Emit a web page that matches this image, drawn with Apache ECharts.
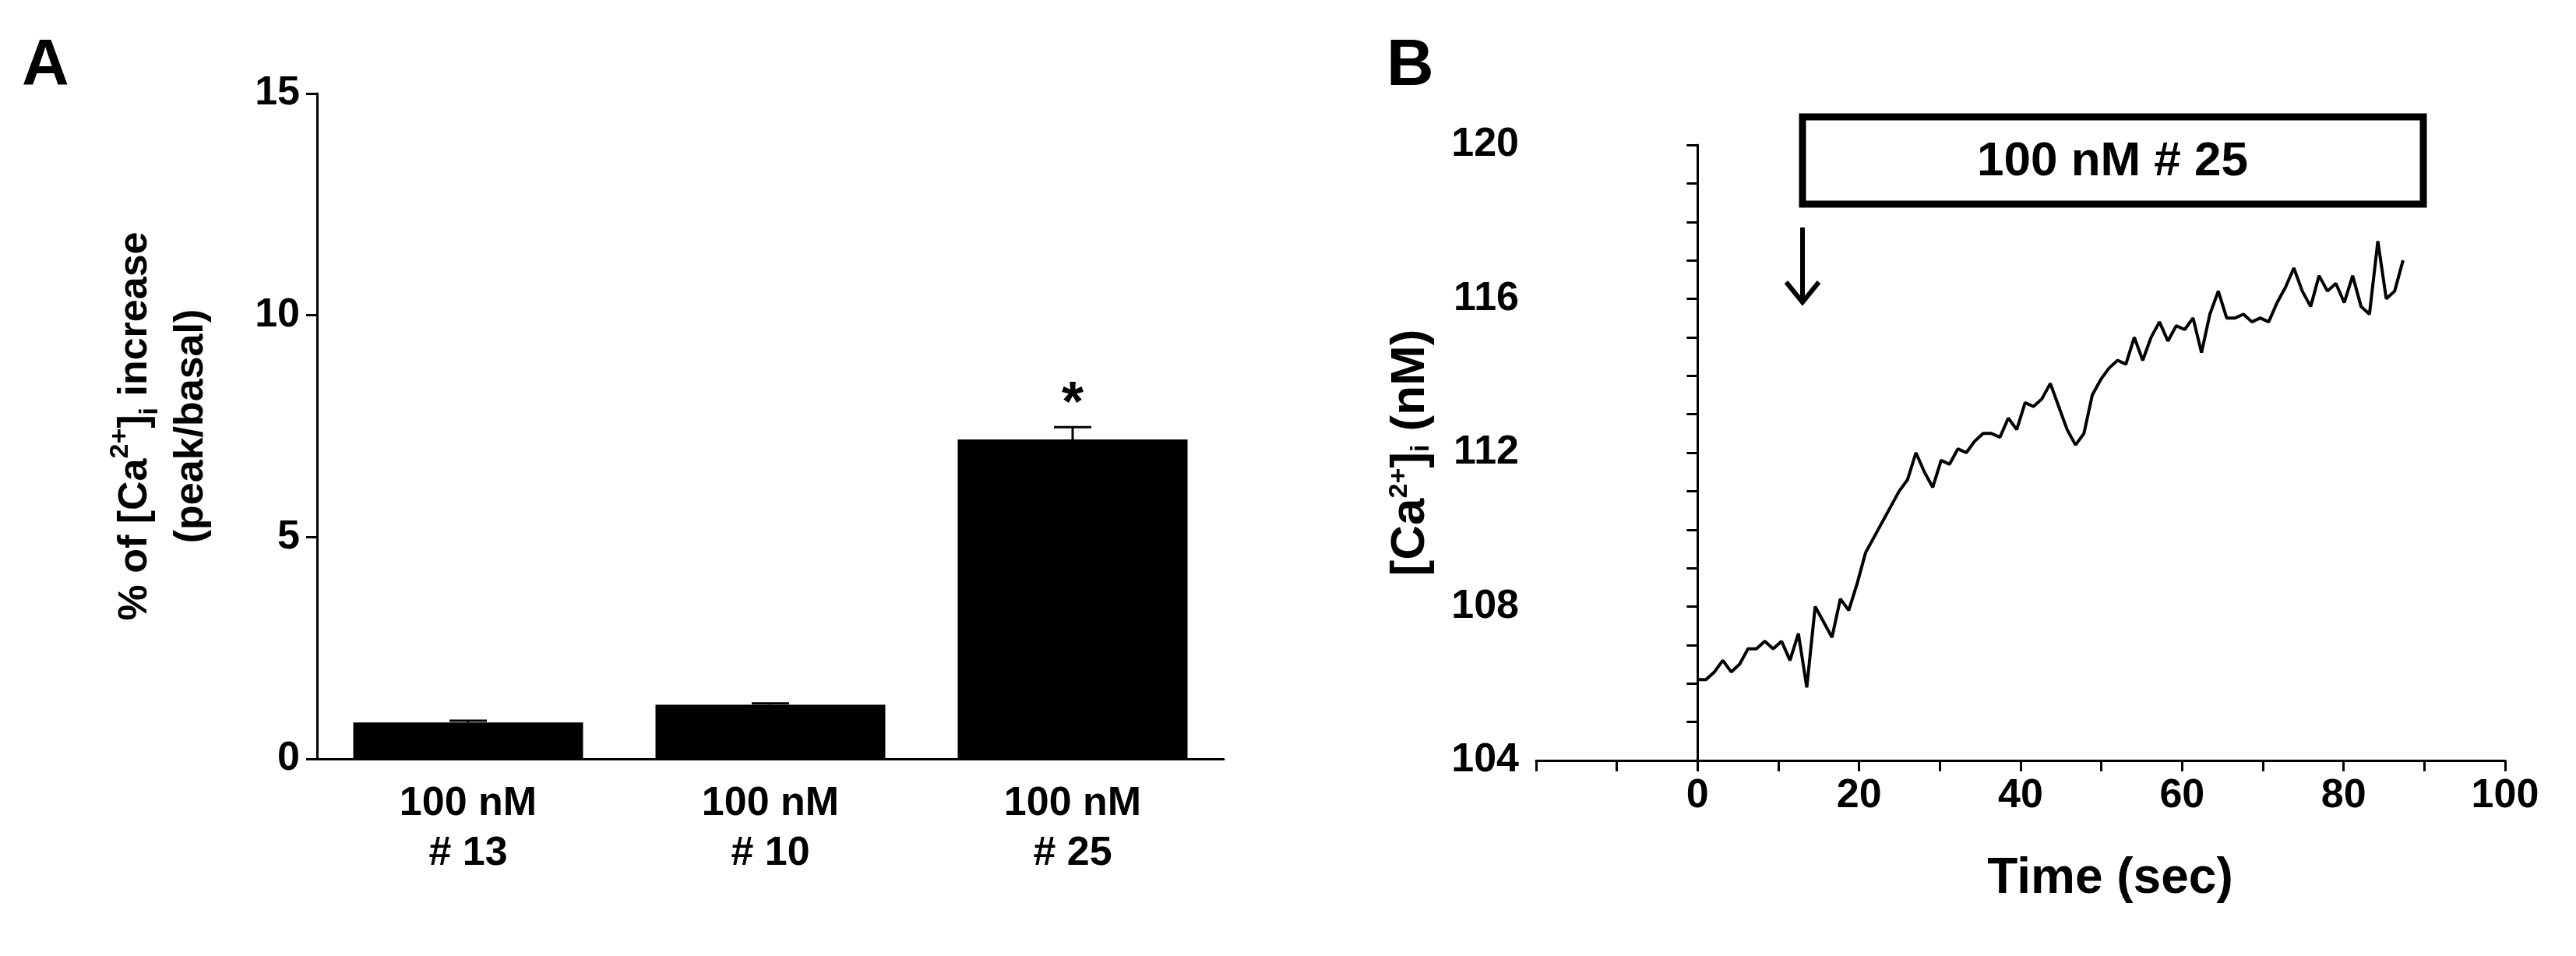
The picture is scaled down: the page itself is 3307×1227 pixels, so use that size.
<!DOCTYPE html>
<html>
<head>
<meta charset="utf-8">
<script src="https://cdn.jsdelivr.net/npm/echarts@6/dist/echarts.min.js"></script>
<style>html,body{margin:0;padding:0;background:#fff}#chart{width:3307px;height:1227px}</style>
</head>
<body>
<div id="chart"></div>
<script>
// panel A
const categories = ['100 nM\n# 13', '100 nM\n# 10', '100 nM\n# 25']
const barValues = [0.82, 1.22, 7.2]
const barErrors = [0.04, 0.03, 0.28]
const barMarks = ['', '', '*']
// panel B
const dt = 1.04
const calcium = [106.1, 106.1, 106.3, 106.6, 106.3, 106.5, 106.9, 106.9, 107.1, 106.9,
  107.1, 106.6, 107.3, 105.9, 108.0, 107.6, 107.2, 108.2, 107.9, 108.6,
  109.4, 109.8, 110.2, 110.6, 111.0, 111.3, 112.0, 111.5, 111.1, 111.8,
  111.7, 112.1, 112.0, 112.3, 112.5, 112.5, 112.4, 112.9, 112.6, 113.3,
  113.2, 113.4, 113.8, 113.2, 112.6, 112.2, 112.5, 113.5, 113.9, 114.2,
  114.4, 114.3, 115.0, 114.4, 115.0, 115.4, 114.9, 115.3, 115.2, 115.5,
  114.6, 115.6, 116.2, 115.5, 115.5, 115.6, 115.4, 115.5, 115.4, 115.9,
  116.3, 116.8, 116.2, 115.8, 116.6, 116.2, 116.4, 115.9, 116.6, 115.8,
  115.6, 117.5, 116.0, 116.2, 117.0]

const font = 'Liberation Sans, Arial, sans-serif'
const black = '#000'
const axisLine = {show: true, lineStyle: {color: black, width: 3}}
const tick = {show: true, length: 14, lineStyle: {width: 3, color: black}}
const rich = {
  sup: {fontSize: 34, fontWeight: 'bold', verticalAlign: 'top', padding: [0, 0, 26, 0], fontFamily: font},
  sub: {fontSize: 34, fontWeight: 'bold', verticalAlign: 'bottom', padding: [22, 0, 0, 0], fontFamily: font}
}

let chart = echarts.init(document.getElementById('chart'))
chart.setOption({
  animation: false,
  backgroundColor: '#fff',
  textStyle: {fontFamily: font},
  grid: [
    {left: 407, top: 120, width: 1164, height: 854},
    {left: 1972, top: 186, width: 1244, height: 790}
  ],
  xAxis: [
    {gridIndex: 0, type: 'category', data: categories, axisLine: axisLine,
      axisTick: {show: false},
      axisLabel: {color: black, fontSize: 52, fontWeight: 'bold', margin: 26, lineHeight: 64}},
    {gridIndex: 1, type: 'value', min: -20, max: 100, interval: 10, axisLine: axisLine,
      axisTick: tick, splitLine: {show: false},
      axisLabel: {color: black, fontSize: 52, fontWeight: 'bold', margin: 20,
        formatter: v => (v >= 0 && v % 20 === 0) ? v : ''},
      name: 'Time (sec)', nameLocation: 'middle', nameGap: 120,
      nameTextStyle: {color: black, fontSize: 64, fontWeight: 'bold', padding: [0, 0, 0, 230]}}
  ],
  yAxis: [
    {gridIndex: 0, type: 'value', min: 0, max: 15, interval: 5, axisLine: axisLine,
      axisTick: tick, splitLine: {show: false},
      axisLabel: {color: black, fontSize: 52, fontWeight: 'bold', margin: 22},
      name: '% of [Ca{sup|2+}]{sub|i} increase\n(peak/basal)', nameLocation: 'middle', nameGap: 125,
      nameTextStyle: {color: black, fontSize: 52, fontWeight: 'bold', lineHeight: 72, rich: rich}},
    {gridIndex: 1, type: 'value', min: 104, max: 120, interval: 1, axisLine: axisLine,
      axisTick: tick, splitLine: {show: false},
      axisLabel: {color: black, fontSize: 52, fontWeight: 'bold', margin: 22,
        formatter: v => v % 4 === 0 ? v : ''},
      name: '[Ca{sup|2+}]{sub|i} (nM)', nameLocation: 'middle', nameGap: 130,
      nameTextStyle: {color: black, fontSize: 62, fontWeight: 'bold', rich: rich}}
  ],
  series: [
    {type: 'bar', xAxisIndex: 0, yAxisIndex: 0, data: barValues, barWidth: 295,
      itemStyle: {color: black}},
    {type: 'custom', xAxisIndex: 0, yAxisIndex: 0, z: 5,
      data: barValues.map((v, i) => [i, v, barErrors[i]]),
      renderItem: (params, api) => {
        const top = api.coord([api.value(0), api.value(1) + api.value(2)])
        const base = api.coord([api.value(0), api.value(1)])
        const children = [
          {type: 'line', shape: {x1: base[0], y1: base[1], x2: top[0], y2: top[1]}, style: {stroke: black, lineWidth: 3}},
          {type: 'line', shape: {x1: top[0] - 24, y1: top[1], x2: top[0] + 24, y2: top[1]}, style: {stroke: black, lineWidth: 3}}
        ]
        const mark = barMarks[params.dataIndex]
        if (mark) children.push({type: 'text', style: {text: mark, x: top[0], y: top[1] + 8,
          fill: black, font: 'bold 72px ' + font, textAlign: 'center', textVerticalAlign: 'bottom'}})
        return {type: 'group', children: children}
      }},
    {type: 'line', xAxisIndex: 1, yAxisIndex: 1, showSymbol: false,
      data: calcium.map((v, i) => [+(i * dt).toFixed(2), v]),
      lineStyle: {color: black, width: 4}}
  ],
  graphic: [
    {type: 'text', left: 28, top: 44, style: {text: 'A', fill: black, font: 'bold 84px ' + font}},
    {type: 'text', left: 1780, top: 44, style: {text: 'B', fill: black, font: 'bold 84px ' + font}},
    {type: 'rect', shape: {x: 2314, y: 150, width: 797, height: 112},
      style: {fill: '#fff', stroke: black, lineWidth: 9}},
    {type: 'text', style: {text: '100 nM # 25', x: 2712, y: 208, fill: black,
      font: 'bold 62px ' + font, textAlign: 'center', textVerticalAlign: 'middle'}},
    {type: 'line', shape: {x1: 2314, y1: 292, x2: 2314, y2: 388}, style: {stroke: black, lineWidth: 6}},
    {type: 'polyline', shape: {points: [[2293, 362], [2314, 388], [2335, 362]]},
      style: {stroke: black, lineWidth: 6, fill: null}}
  ]
})
</script>
</body>
</html>
